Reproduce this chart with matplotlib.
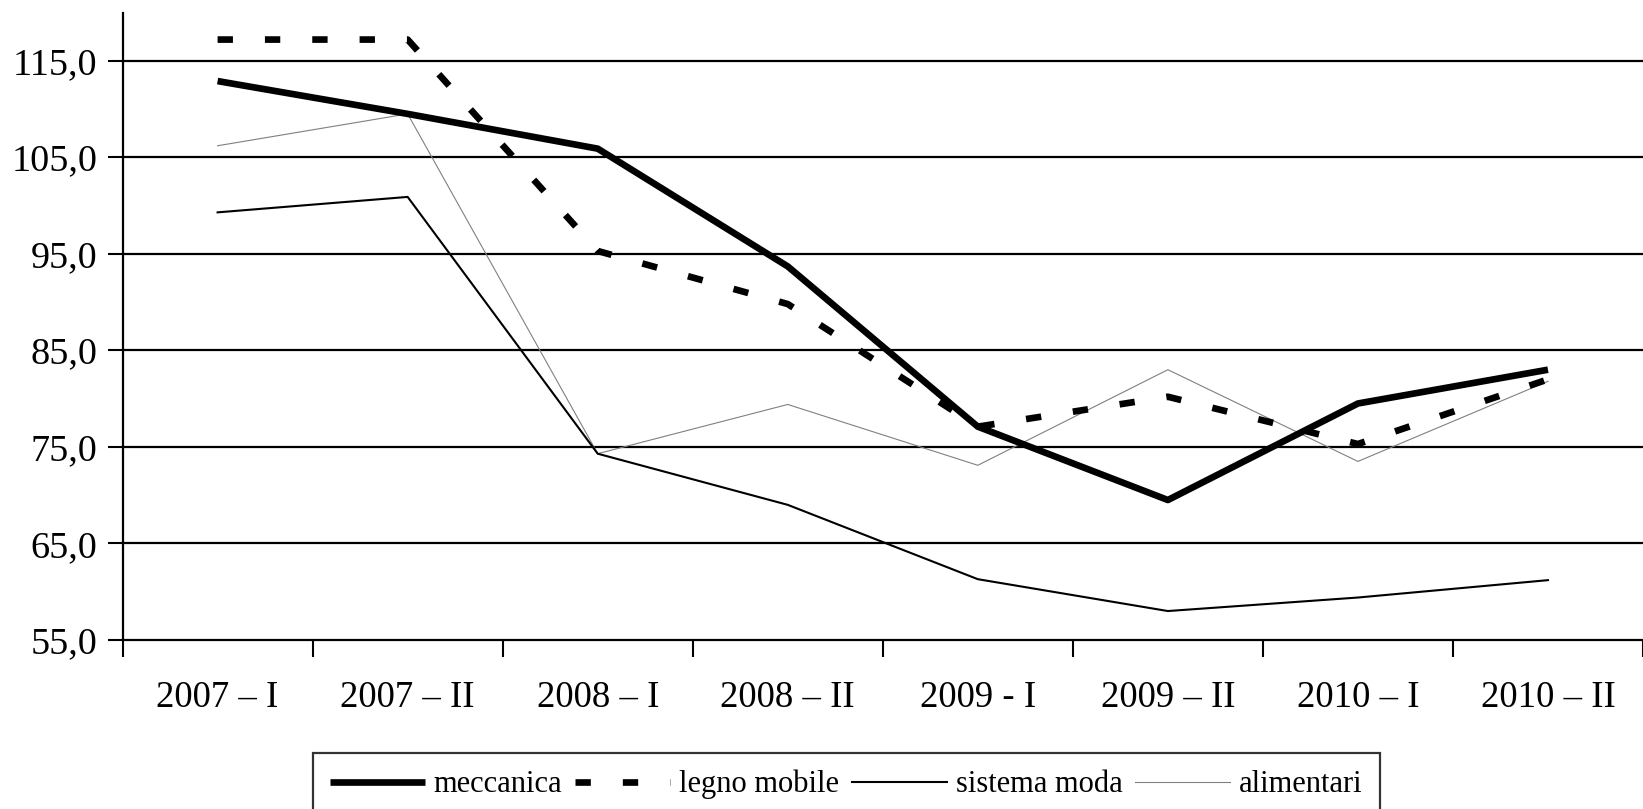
import matplotlib
matplotlib.use("Agg")
import matplotlib.pyplot as plt

periods = ["2007 – I", "2007 – II", "2008 – I", "2008 – II",
           "2009 - I", "2009 – II", "2010 – I", "2010 – II"]

meccanica = [112.9, 109.5, 105.9, 93.7, 77.1, 69.5, 79.5, 83.0]
legno_mobile = [117.2, 117.2, 95.3, 89.8, 77.1, 80.2, 75.3, 82.0]
sistema_moda = [99.3, 100.9, 74.3, 69.0, 61.3, 58.0, 59.4, 61.2]
alimentari = [106.2, 109.5, 74.3, 79.4, 73.1, 83.0, 73.5, 81.8]

yticks = [55, 65, 75, 85, 95, 105, 115]


def main():
    plt.rcParams["font.family"] = ["Liberation Serif", "DejaVu Serif"]

    fig = plt.figure(figsize=(16.43, 8.09), dpi=100)
    ax = fig.add_axes([0.0746, 0.2089, 0.9254, 0.7756])

    x = list(range(len(periods)))

    ax.plot(x, alimentari, color="#808080", lw=0.8, label="alimentari", zorder=3)
    ax.plot(x, sistema_moda, color="black", lw=1.5, label="sistema moda", zorder=4)
    ax.plot(x, legno_mobile, color="black", lw=4.8, dashes=(2.3, 4.8),
            dash_capstyle="butt", label="legno mobile", zorder=5)
    ax.plot(x, meccanica, color="black", lw=4.8, solid_capstyle="butt",
            label="meccanica", zorder=6)

    ax.set_ylim(55, 120)
    ax.set_xlim(-0.5, 7.448)
    ax.set_yticks(yticks)
    ax.set_yticklabels([f"{v:.1f}".replace(".", ",") for v in yticks])

    # category boundaries as major ticks, labels on minor ticks at centres
    ax.set_xticks([i - 0.5 for i in range(len(periods) + 1)])
    ax.set_xticklabels([])
    ax.set_xticks(x, minor=True)
    ax.set_xticklabels(periods, minor=True)

    ax.tick_params(axis="y", length=11, width=1.5, pad=7, labelsize=27.5)
    ax.tick_params(axis="x", which="major", length=12, width=1.5, direction="out")
    ax.tick_params(axis="x", which="minor", length=0, pad=29, labelsize=26.5)

    for v in yticks[1:]:
        ax.axhline(v, color="black", lw=1.6, zorder=1)

    for side in ["top", "right"]:
        ax.spines[side].set_visible(False)
    for side in ["left", "bottom"]:
        ax.spines[side].set_linewidth(1.6)

    handles, labels = ax.get_legend_handles_labels()
    order = [3, 2, 1, 0]
    leg = fig.legend([handles[i] for i in order], [labels[i] for i in order],
                     loc="upper left", bbox_to_anchor=(313 / 1643, 1 - 753 / 809),
                     ncol=4, fontsize=22, frameon=True, fancybox=False,
                     handlelength=3.1, handletextpad=0.3, columnspacing=0.42,
                     borderpad=0.55, borderaxespad=0)
    leg.get_frame().set_edgecolor("black")
    leg.get_frame().set_linewidth(1.6)

    fig.savefig("out.png", dpi=100)
    plt.close(fig)


if __name__ == "__main__":
    main()
